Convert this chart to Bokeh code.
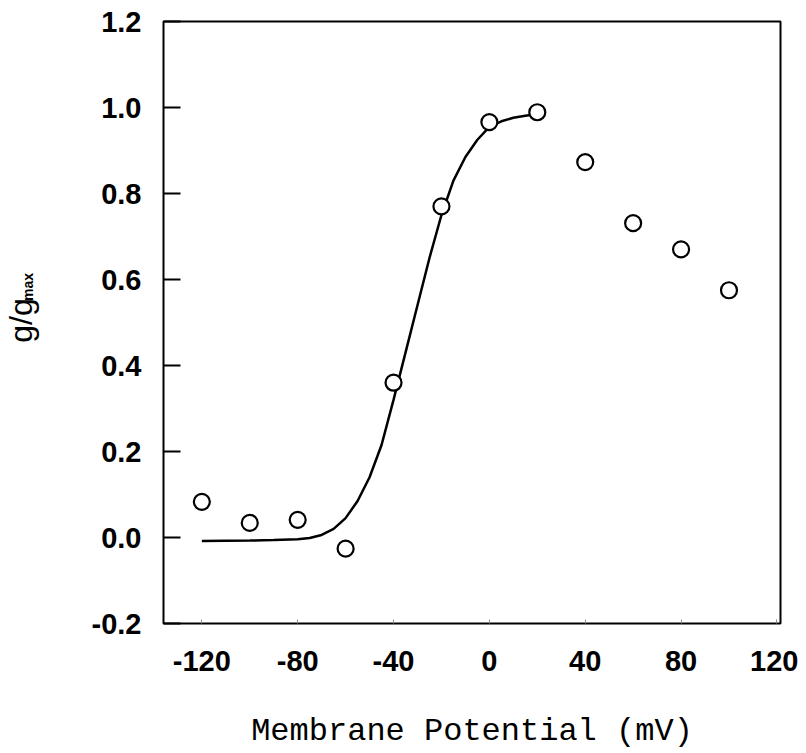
from math import pi
from bokeh.plotting import figure
from bokeh.layouts import row
from bokeh.models import FixedTicker, Range1d, NumeralTickFormatter
from bokeh.core.properties import value
from bokeh.embed import file_html
from bokeh.resources import INLINE

# measured conductance points
voltage = [-120, -100, -80, -60, -40, -20, 0, 20, 40, 60, 80, 100]
g_norm = [0.083, 0.034, 0.041, -0.026, 0.360, 0.770, 0.966, 0.989, 0.873, 0.731, 0.670, 0.575]

# fitted curve
fit_v = [-120, -100, -90, -80, -75, -70, -65, -60, -55, -50, -45, -40, -35, -30,
         -25, -20, -15, -10, -5, 0, 5, 10, 15, 20]
fit_g = [-0.008, -0.007, -0.006, -0.004, -0.001, 0.006, 0.02, 0.045, 0.085, 0.14,
         0.215, 0.32, 0.43, 0.54, 0.65, 0.75, 0.83, 0.885, 0.925, 0.955, 0.968,
         0.976, 0.981, 0.985]

x_ticks = [-120, -80, -40, 0, 40, 80, 120]
x_tick_labels = ["-120", "-80", "-40", "0", "40", "80", "120"]
y_ticks = [-0.2, 0.0, 0.2, 0.4, 0.6, 0.8, 1.0, 1.2]
y_tick_labels = ["-0.2", "0.0", "0.2", "0.4", "0.6", "0.8", "1.0", "1.2"]

x_label = "Membrane Potential (mV)"
y_label_main = "g/g"
y_label_sub = "max"

tick_font = "Liberation Sans"
H = 753

# narrow strip holding the rotated y-axis title with its subscript
lab = figure(width=60, height=H, output_backend="svg", toolbar_location=None,
             x_range=Range1d(0, 60), y_range=Range1d(0, H), min_border=0,
             x_axis_location=None, y_axis_location=None)
lab.grid.visible = False
lab.outline_line_color = None
lab.background_fill_color = "white"
lab.border_fill_color = "white"
lab.text(x=[20], y=[379], text=[y_label_main], angle=pi / 2,
         text_align="center", text_baseline="alphabetic",
         text_font=value(tick_font), text_font_size="32px", text_color="black")
lab.text(x=[27], y=[421], text=[y_label_sub], angle=pi / 2,
         text_align="center", text_baseline="alphabetic",
         text_font=value(tick_font), text_font_style="bold",
         text_font_size="14px", text_color="black")

p = figure(width=738, height=H, output_backend="svg", toolbar_location=None,
           x_range=Range1d(-136, 121.5), y_range=Range1d(-0.2, 1.2),
           min_border_left=103, min_border_right=18, min_border_top=21,
           min_border_bottom=H - 21 - 602)

p.background_fill_color = "white"
p.border_fill_color = "white"
p.outline_line_color = "black"
p.outline_line_width = 2
p.xgrid.visible = False
p.ygrid.visible = False

p.xaxis.ticker = FixedTicker(ticks=x_ticks)
p.xaxis.major_label_overrides = dict(zip(x_ticks, x_tick_labels))
p.xaxis.major_label_text_font = tick_font
p.xaxis.major_label_text_font_style = "bold"
p.xaxis.major_label_text_font_size = "29px"
p.xaxis.major_label_text_color = "black"
p.xaxis.major_label_standoff = 27
p.xaxis.major_tick_in = 4
p.xaxis.major_tick_out = 0
p.xaxis.major_tick_line_width = 1
p.xaxis.major_tick_line_color = "#888888"
p.xaxis.minor_tick_line_color = None
p.xaxis.axis_line_color = None
p.xaxis.axis_label = x_label
p.xaxis.axis_label_text_font = "Liberation Mono"
p.xaxis.axis_label_text_font_style = "normal"
p.xaxis.axis_label_text_font_size = "32px"
p.xaxis.axis_label_text_color = "black"
p.xaxis.axis_label_standoff = 39

p.yaxis.ticker = FixedTicker(ticks=y_ticks)
p.yaxis.formatter = NumeralTickFormatter(format="0.0")
p.yaxis.major_label_overrides = dict(zip(y_ticks, y_tick_labels))
p.yaxis.major_label_text_font = tick_font
p.yaxis.major_label_text_font_style = "bold"
p.yaxis.major_label_text_font_size = "29px"
p.yaxis.major_label_text_color = "black"
p.yaxis.major_label_standoff = 22
p.yaxis.major_tick_in = 17
p.yaxis.major_tick_out = 0
p.yaxis.major_tick_line_width = 2
p.yaxis.major_tick_line_color = "black"
p.yaxis.minor_tick_line_color = None
p.yaxis.axis_line_color = None

p.line(fit_v, fit_g, line_color="black", line_width=2.5)
p.scatter(voltage, g_norm, marker="circle", size=16, fill_color="white",
          line_color="black", line_width=2.2)

layout = row(lab, p, spacing=0)

open("out.html", "w").write(file_html(layout, INLINE))
